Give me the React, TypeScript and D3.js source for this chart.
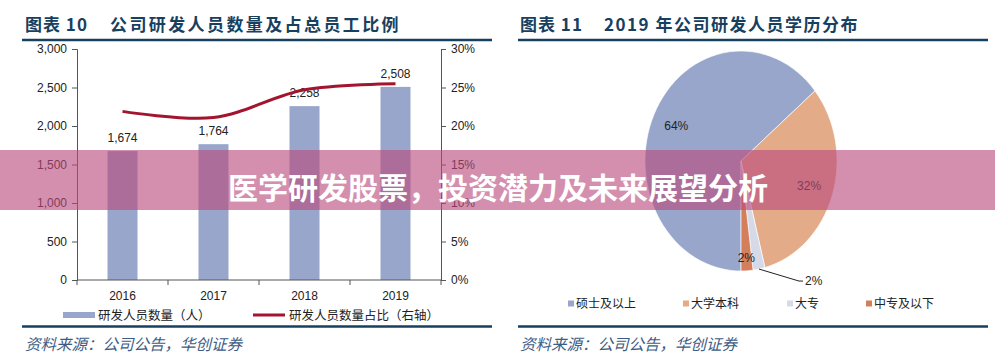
import { useEffect, useRef } from 'react';
import * as d3 from 'd3';

// left chart data
const years = ['2016', '2017', '2018', '2019'];
const staffCounts = [1674, 1764, 2258, 2508];
const staffShare = [21.9, 21.1, 24.7, 25.5]; // %, right axis
const leftTicks = [0, 500, 1000, 1500, 2000, 2500, 3000];
const rightTicks = [0, 5, 10, 15, 20, 25, 30];

// right chart data
const eduLevels = ['硕士及以上', '大学本科', '大专', '中专及以下'];
const eduShares = [64, 32, 2, 2];
const eduColors = ['#97a6ca', '#e3ab88', '#d6d9e7', '#d47f5b'];

const WIDTH = 995;
const HEIGHT = 362;
const NAVY = '#17405f';
const SANS = '"Liberation Sans", Arial, "Noto Sans CJK SC", sans-serif';
const CJK = '"Noto Sans CJK SC", "Liberation Sans", sans-serif';

export default function App() {
  const svgRef = useRef<SVGSVGElement>(null);

  useEffect(() => {
    if (!svgRef.current) return;
    const svg = d3.select(svgRef.current);
    svg.selectAll('*').remove();

    svg.append('rect').attr('width', WIDTH).attr('height', HEIGHT).attr('fill', '#fff');

    // header / footer frames for both panels
    const panels = [
      { x0: 22, x1: 492, tx: 25, num: '图表 10', title: '公司研发人员数量及占总员工比例', titleX: 110, ls: 2.4 },
      { x0: 518, x1: 988, tx: 520, num: '图表 11', title: '2019 年公司研发人员学历分布', titleX: 604, ls: 1.5 },
    ];
    panels.forEach(p => {
      const t = svg.append('text')
        .attr('y', 31)
        .attr('fill', NAVY)
        .attr('font-family', '"Noto Sans CJK SC", serif')
        .attr('font-weight', 'bold')
        .attr('font-size', 17);
      t.append('tspan').attr('x', p.tx).attr('letter-spacing', 1).text(p.num);
      t.append('tspan').attr('x', p.titleX).attr('letter-spacing', p.ls).text(p.title);
      svg.append('line').attr('x1', p.x0).attr('x2', p.x1).attr('y1', 40).attr('y2', 40)
        .attr('stroke', NAVY).attr('stroke-width', 2.5);
      svg.append('line').attr('x1', p.x0).attr('x2', p.x1).attr('y1', 326.5).attr('y2', 326.5)
        .attr('stroke', NAVY).attr('stroke-width', 2.5);
      svg.append('text')
        .attr('x', p.tx).attr('y', 350)
        .attr('fill', '#3d5c85')
        .attr('font-family', CJK)
        .attr('font-style', 'italic')
        .attr('font-size', 15.5)
        .text('资料来源：公司公告，华创证券');
    });

    // ---------- left: bar + line ----------
    const x = d3.scaleBand().domain(years).range([77, 441]).paddingInner(0).paddingOuter(0);
    const yL = d3.scaleLinear().domain([0, 3000]).range([280, 49]);
    const yR = d3.scaleLinear().domain([0, 30]).range([280, 49]);
    const barW = 30;

    const g = svg.append('g');

    g.selectAll('.bar')
      .data(staffCounts)
      .enter().append('rect')
      .attr('x', (d, i) => (x(years[i]) || 0) + x.bandwidth() / 2 - barW / 2)
      .attr('y', d => yL(d))
      .attr('width', barW)
      .attr('height', d => yL(0) - yL(d))
      .attr('fill', '#97a6ca');

    g.selectAll('.barlabel')
      .data(staffCounts)
      .enter().append('text')
      .attr('x', (d, i) => (x(years[i]) || 0) + x.bandwidth() / 2)
      .attr('y', d => yL(d) - 9)
      .attr('text-anchor', 'middle')
      .attr('font-family', SANS)
      .attr('font-size', 12)
      .attr('fill', '#222')
      .text(d => d3.format(',')(d));

    const line = d3.line<number>()
      .x((d, i) => (x(years[i]) || 0) + x.bandwidth() / 2)
      .y(d => yR(d))
      .curve(d3.curveCatmullRom.alpha(0.5));
    g.append('path')
      .datum(staffShare)
      .attr('fill', 'none')
      .attr('stroke', '#a3142e')
      .attr('stroke-width', 3)
      .attr('d', line);

    // left axis
    g.append('g')
      .attr('transform', 'translate(77,0)')
      .call(d3.axisLeft(yL).tickValues(leftTicks).tickFormat(d3.format(',')).tickSize(5).tickPadding(5))
      .call(a => a.select('.domain').attr('stroke', '#555'))
      .call(a => a.selectAll('line').attr('stroke', '#555'))
      .call(a => a.selectAll('text').attr('font-family', SANS).attr('font-size', 12).attr('fill', '#222'));

    // right axis
    g.append('g')
      .attr('transform', 'translate(441,0)')
      .call(d3.axisRight(yR).tickValues(rightTicks).tickFormat(d => `${d}%`).tickSize(5).tickPadding(5))
      .call(a => a.select('.domain').attr('stroke', '#555'))
      .call(a => a.selectAll('line').attr('stroke', '#555'))
      .call(a => a.selectAll('text').attr('font-family', SANS).attr('font-size', 12).attr('fill', '#222'));

    // bottom axis: ticks on category boundaries
    const bottom = g.append('g');
    bottom.append('line').attr('x1', 77).attr('x2', 441).attr('y1', 280).attr('y2', 280).attr('stroke', '#555');
    const bounds = years.map(y => x(y) || 0).concat([441]);
    bottom.selectAll('.xt')
      .data(bounds)
      .enter().append('line')
      .attr('x1', d => d).attr('x2', d => d)
      .attr('y1', 280).attr('y2', 285)
      .attr('stroke', '#555');
    bottom.selectAll('.xl')
      .data(years)
      .enter().append('text')
      .attr('x', d => (x(d) || 0) + x.bandwidth() / 2)
      .attr('y', 300)
      .attr('text-anchor', 'middle')
      .attr('font-family', SANS)
      .attr('font-size', 12)
      .attr('fill', '#222')
      .text(d => d);

    // legend
    g.append('rect').attr('x', 63).attr('y', 312).attr('width', 32).attr('height', 6).attr('fill', '#97a6ca');
    g.append('text').attr('x', 98).attr('y', 320).attr('font-family', CJK).attr('font-size', 12.5).attr('fill', '#222')
      .text('研发人员数量（人）');
    g.append('line').attr('x1', 253).attr('x2', 285).attr('y1', 315).attr('y2', 315)
      .attr('stroke', '#a3142e').attr('stroke-width', 3);
    g.append('text').attr('x', 289).attr('y', 320).attr('font-family', CJK).attr('font-size', 12.5).attr('fill', '#222')
      .text('研发人员数量占比（右轴）');

    // ---------- right: pie ----------
    const cx = 741;
    const cy = 161;
    const R = 110;
    const sx = 0.873;
    const pie = d3.pie<number>().value(d => d).sort(null).startAngle(Math.PI).endAngle(3 * Math.PI);
    const arcs = pie(eduShares);
    const arc = d3.arc<d3.PieArcDatum<number>>().innerRadius(0).outerRadius(R);
    const pg = svg.append('g').attr('transform', `translate(${cx},${cy}) scale(${sx},1)`);
    pg.selectAll('path')
      .data(arcs)
      .enter().append('path')
      .attr('d', arc)
      .attr('fill', (d, i) => eduColors[i])
      .attr('stroke', '#fff')
      .attr('stroke-width', 0.7)
      .attr('stroke-linejoin', 'round');

    const labelArc = d3.arc<d3.PieArcDatum<number>>().innerRadius(82).outerRadius(82);
    const edgeArc = d3.arc<d3.PieArcDatum<number>>().innerRadius(R).outerRadius(R);
    const toScreen = (p: [number, number]) => [cx + p[0] * sx, cy + p[1]];

    [0, 1].forEach(i => {
      const [lx, ly] = toScreen(labelArc.centroid(arcs[i]));
      svg.append('text').attr('x', lx).attr('y', ly + 4).attr('text-anchor', 'middle')
        .attr('font-family', SANS).attr('font-size', 12).attr('fill', '#222')
        .text(`${eduShares[i]}%`);
    });
    // 中专及以下 label sits at the rim
    const inner = d3.arc<d3.PieArcDatum<number>>().innerRadius(97).outerRadius(97);
    const [ix, iy] = toScreen(inner.centroid(arcs[3]));
    svg.append('text').attr('x', ix).attr('y', iy + 4).attr('text-anchor', 'middle')
      .attr('font-family', SANS).attr('font-size', 12).attr('fill', '#222')
      .text(`${eduShares[3]}%`);
    // 大专 label with leader line
    const [ex, ey] = toScreen(edgeArc.centroid(arcs[2]));
    svg.append('polyline')
      .attr('points', `${ex},${ey} ${ex + 40},${ey + 12} ${ex + 44},${ey + 12}`)
      .attr('fill', 'none').attr('stroke', '#222').attr('stroke-width', 1);
    svg.append('text').attr('x', ex + 46).attr('y', ey + 16)
      .attr('font-family', SANS).attr('font-size', 12).attr('fill', '#222')
      .text(`${eduShares[2]}%`);

    // pie legend
    const legendX = [568, 683, 787, 866];
    eduLevels.forEach((name, i) => {
      svg.append('rect').attr('x', legendX[i]).attr('y', 300.5).attr('width', 6).attr('height', 6)
        .attr('fill', eduColors[i]);
      svg.append('text').attr('x', legendX[i] + 8).attr('y', 308)
        .attr('font-family', CJK).attr('font-size', 12).attr('fill', '#222')
        .text(name);
    });

    // ---------- banner overlay ----------
    svg.append('rect').attr('x', 0).attr('y', 150).attr('width', WIDTH).attr('height', 60)
      .attr('fill', 'rgb(185,75,125)').attr('opacity', 0.62);
    svg.append('text').attr('x', 498).attr('y', 199).attr('text-anchor', 'middle')
      .attr('font-family', CJK).attr('font-weight', 'bold').attr('font-size', 30).attr('fill', '#fff')
      .text('医学研发股票，投资潜力及未来展望分析');
  }, []);

  return (
    <svg
      ref={svgRef}
      width={WIDTH}
      height={HEIGHT}
      style={{ position: 'absolute', left: 0, top: 0, display: 'block' }}
    />
  );
}
